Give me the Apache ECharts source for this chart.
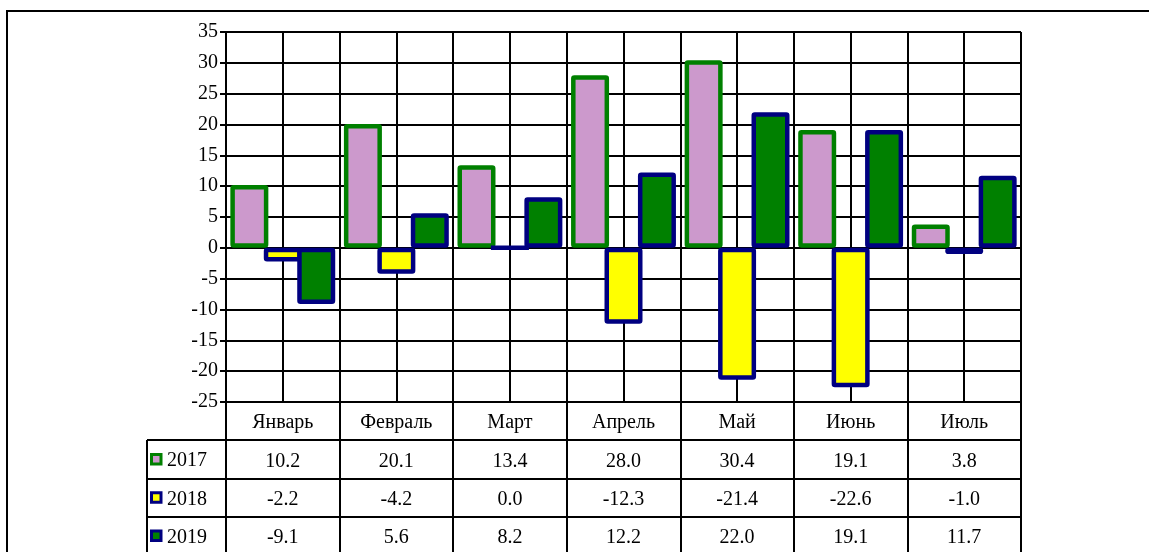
<!DOCTYPE html>
<html><head><meta charset="utf-8">
<script src="https://cdn.jsdelivr.net/npm/echarts@6/dist/echarts.min.js"></script>
<style>html,body{margin:0;padding:0;background:#fff}#c{width:1149px;height:552px}</style>
</head><body><div id="c"></div>
<script>
const categories = ['Январь','Февраль','Март','Апрель','Май','Июнь','Июль'];
const seriesNames = ['2017','2018','2019'];
const v2017 = [10.2, 20.1, 13.4, 28.0, 30.4, 19.1, 3.8];
const v2018 = [-2.2, -4.2, 0.0, -12.3, -21.4, -22.6, -1.0];
const v2019 = [-9.1, 5.6, 8.2, 12.2, 22.0, 19.1, 11.7];
const yTicks = {min: -25, max: 35, interval: 5};

const fills = ['#CC99CC', '#FFFF00', '#008000'];
const borders = ['#008000', '#000080', '#000080'];
const values = [v2017, v2018, v2019];
const FONT = 'Liberation Serif';
const FS = 20;

const L = 226, R = 1021, T = 32, B = 402, ROW = 38.3;

const chart = echarts.init(document.getElementById('c'), null, {renderer: 'canvas'});

const graphics = [
  {type: 'rect', shape: {x: 7, y: 11, width: 1200, height: 600}, style: {fill: 'none', stroke: '#000', lineWidth: 2}, z: 0}
];
for (let i = 1; i <= 3; i++) {
  graphics.push({type: 'line', shape: {x1: 147, y1: Math.round(B + ROW * i), x2: R, y2: Math.round(B + ROW * i)}, style: {stroke: '#000', lineWidth: 2}, z: 10});
}
graphics.push({type: 'line', shape: {x1: 147, y1: Math.round(B + ROW), x2: 147, y2: 560}, style: {stroke: '#000', lineWidth: 2}, z: 10});
seriesNames.forEach((n, i) => {
  const cy = B + ROW * (i + 1) + ROW / 2;
  graphics.push({type: 'rect', shape: {x: 151.5, y: cy - 5, width: 9.5, height: 9.5}, style: {fill: fills[i], stroke: borders[i], lineWidth: 3}, z: 10});
  graphics.push({type: 'text', x: 167, y: cy + 1.5, style: {text: n, font: FS + 'px "' + FONT + '"', fill: '#000', textVerticalAlign: 'middle', verticalAlign: 'middle'}, z: 10});
});

const fmt = v => v.toFixed(1);

chart.setOption({
  animation: false,
  backgroundColor: '#fff',
  grid: {left: L, right: 1149 - R, top: T, bottom: 552 - B, containLabel: false, outerBoundsMode: 'none'},
  xAxis: [
    {
      type: 'category', data: categories, boundaryGap: true,
      axisLine: {show: true, onZero: false, lineStyle: {color: '#000', width: 2}},
      axisTick: {show: true, length: 160, inside: false, lineStyle: {color: '#000', width: 2}},
      splitLine: {show: false},
      axisLabel: {
        margin: 2, interval: 0, hideOverlap: false,
        formatter: (val, idx) => {
          return '{c|' + val + '}\n{v|' + fmt(v2017[idx]) + '}\n{v|' + fmt(v2018[idx]) + '}\n{v|' + fmt(v2019[idx]) + '}';
        },
        rich: {
          c: {fontFamily: FONT, fontSize: FS, color: '#000', lineHeight: ROW, height: ROW},
          v: {fontFamily: FONT, fontSize: FS, color: '#000', lineHeight: ROW, height: ROW}
        }
      }
    },
    {
      type: 'value', min: 0, max: 7, interval: 0.5, position: 'bottom',
      axisLine: {show: false}, axisTick: {show: false}, axisLabel: {show: false},
      splitLine: {show: true, lineStyle: {color: '#000', width: 2}}
    }
  ],
  yAxis: {
    type: 'value', min: yTicks.min, max: yTicks.max, interval: yTicks.interval,
    axisLine: {show: true, onZero: false, lineStyle: {color: '#000', width: 2}},
    axisTick: {show: true, length: 6, lineStyle: {color: '#000', width: 2}},
    splitLine: {show: true, lineStyle: {color: '#000', width: 2}},
    axisLabel: {fontFamily: FONT, fontSize: FS, color: '#000', margin: 8}
  },
  series: values.map((d, i) => ({
    type: 'bar', name: seriesNames[i], data: d, xAxisIndex: 0,
    barWidth: 38, barGap: '-12%',
    itemStyle: {color: fills[i], borderColor: borders[i], borderWidth: 4.5, borderRadius: 1},
    z: 5 + i
  })),
  graphic: graphics
});
</script></body></html>
